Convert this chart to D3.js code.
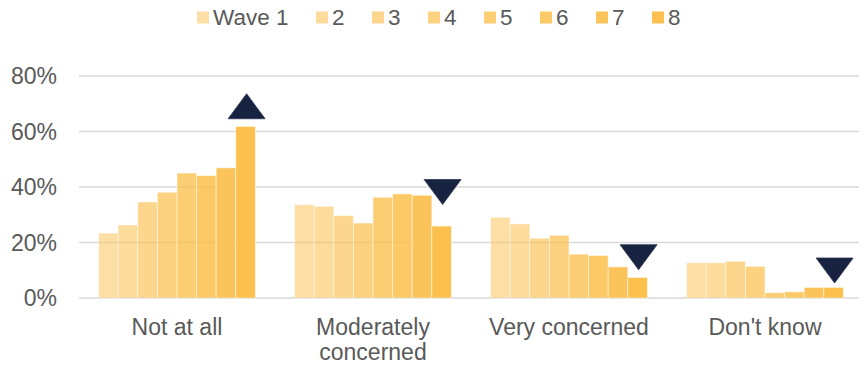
<!DOCTYPE html>
<html>
<head>
<meta charset="utf-8">
<script src="https://cdn.jsdelivr.net/npm/d3@7"></script>
<style>
  html, body { margin: 0; padding: 0; background: #fff; }
  svg { display: block; font-family: "Liberation Sans", Arial, sans-serif; }
</style>
</head>
<body>
<svg id="chart" width="859" height="365"></svg>
<script>
// Level of concern, share of respondents per wave
const categories = ["Not at all", "Moderately concerned", "Very concerned", "Don't know"];
const waveLabels = ["Wave 1", "2", "3", "4", "5", "6", "7", "8"];

const wave1 = [23.4, 33.6, 29.1, 12.7];
const wave2 = [26.3, 33.0, 26.7, 12.7];
const wave3 = [34.6, 29.7, 21.5, 13.2];
const wave4 = [38.1, 27.0, 22.6, 11.4];
const wave5 = [45.0, 36.3, 15.8, 1.9];
const wave6 = [44.1, 37.5, 15.3, 2.2];
const wave7 = [46.9, 37.0, 11.2, 3.8];
const wave8 = [61.8, 25.9, 7.4, 3.8];

// Change indicators for the latest wave
const markerDirection = ["up", "down", "down", "down"];
const markerLevel = [69.1, 38.2, 14.7, 9.9];

const yTicks = [0, 20, 40, 60, 80];

const series = [wave1, wave2, wave3, wave4, wave5, wave6, wave7, wave8];

const svg = d3.select("#chart");
const margin = { left: 79, right: -4, top: 76, bottom: 67 };
const W = 859, H = 365;

const x0 = d3.scaleBand()
  .domain(categories)
  .range([margin.left, W - margin.right])
  .paddingInner(0.2)
  .paddingOuter(0.1);

const x1 = d3.scaleBand()
  .domain(d3.range(series.length))
  .range([0, x0.bandwidth()])
  .padding(0);

const y = d3.scaleLinear()
  .domain([0, 80])
  .range([298, 76]);

const baseColor = "#fbc04e";
const opacity = d3.scaleLinear().domain([0, series.length - 1]).range([0.5, 1]);

const textColor = "#595959";

// Gridlines
svg.append("g")
  .selectAll("line")
  .data(yTicks)
  .join("line")
  .attr("x1", margin.left)
  .attr("x2", W)
  .attr("y1", d => y(d))
  .attr("y2", d => y(d))
  .attr("stroke", "#d9d9d9")
  .attr("stroke-width", 1.4);

// Y axis labels
svg.append("g")
  .selectAll("text")
  .data(yTicks)
  .join("text")
  .attr("x", 57)
  .attr("y", d => y(d))
  .attr("dy", "0.35em")
  .attr("text-anchor", "end")
  .attr("fill", textColor)
  .attr("font-size", 23)
  .text(d => d + "%");

// Bars
const groups = svg.append("g")
  .selectAll("g")
  .data(categories)
  .join("g")
  .attr("transform", d => `translate(${x0(d)},0)`);

groups.selectAll("rect")
  .data((c, ci) => series.map((s, si) => ({ si, v: s[ci] })))
  .join("rect")
  .attr("x", d => x1(d.si))
  .attr("width", x1.bandwidth())
  .attr("y", d => y(d.v))
  .attr("height", d => y(0) - y(d.v))
  .attr("fill", baseColor)
  .attr("fill-opacity", d => opacity(d.si))
  .attr("stroke", "rgba(255,255,255,0.45)")
  .attr("stroke-width", 1);

// Change markers above/below the latest wave
const triW = 37, triH = 25;
svg.append("g")
  .selectAll("path")
  .data(categories)
  .join("path")
  .attr("d", (c, i) => {
    const cx = x0(c) + x1(series.length - 1) + x1.bandwidth() / 2 + 1;
    const cy = y(markerLevel[i]);
    if (markerDirection[i] === "up") {
      return `M${cx - triW / 2},${cy + triH / 2}L${cx},${cy - triH / 2}L${cx + triW / 2},${cy + triH / 2}Z`;
    }
    return `M${cx - triW / 2},${cy - triH / 2}L${cx + triW / 2},${cy - triH / 2}L${cx},${cy + triH / 2}Z`;
  })
  .attr("fill", "#172340")
  .attr("stroke", "#2b3550")
  .attr("stroke-width", 0.8);

// Category labels, wrapped to the band width
const catLabels = svg.append("g")
  .selectAll("text")
  .data(categories)
  .join("text")
  .attr("x", d => x0(d) + x0.bandwidth() / 2)
  .attr("y", 335)
  .attr("text-anchor", "middle")
  .attr("fill", textColor)
  .attr("font-size", 23);

catLabels.each(function (d) {
  const t = d3.select(this);
  const maxW = x0.step() - 10;
  const words = d.split(" ");
  let line = [];
  let lineNo = 0;
  let tspan = t.append("tspan").attr("x", t.attr("x")).attr("dy", 0);
  words.forEach(w => {
    line.push(w);
    tspan.text(line.join(" "));
    if (tspan.node().getComputedTextLength() > maxW && line.length > 1) {
      line.pop();
      tspan.text(line.join(" "));
      line = [w];
      lineNo++;
      tspan = t.append("tspan").attr("x", t.attr("x")).attr("dy", 25).text(w);
    }
  });
});

// Legend
const legend = svg.append("g");
let lx = 197;
waveLabels.forEach((label, i) => {
  legend.append("rect")
    .attr("x", lx)
    .attr("y", 11.5)
    .attr("width", 12)
    .attr("height", 12)
    .attr("fill", baseColor)
    .attr("fill-opacity", opacity(i));
  const txt = legend.append("text")
    .attr("x", lx + 16)
    .attr("y", 25)
    .attr("fill", textColor)
    .attr("font-size", 22.5)
    .text(label);
  lx += 16 + txt.node().getComputedTextLength() + 27.5;
});
</script>
</body>
</html>
